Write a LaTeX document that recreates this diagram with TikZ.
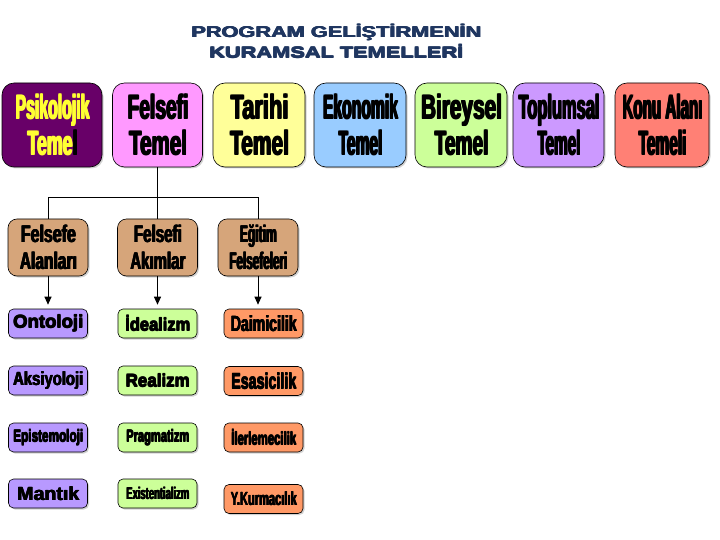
\documentclass[tikz,border=0pt]{standalone}
\usepackage{fontspec}
\usepackage{graphicx}
\usetikzlibrary{arrows.meta,shadows}

\newfontfamily\heavyfam{Liberation Sans}
\newcommand{\heavy}{\heavyfam\bfseries}
% overprint a box a little to the right and up, so the strokes get heavier
\newsavebox{\fatbox}
\newlength{\fatw}\setlength{\fatw}{0.8pt}
\newcommand{\fat}[1]{\sbox{\fatbox}{#1}%
  \rlap{\kern\fatw\usebox{\fatbox}}\rlap{\raisebox{0.4pt}{\usebox{\fatbox}}}%
  \rlap{\kern\fatw\raisebox{0.4pt}{\usebox{\fatbox}}}\usebox{\fatbox}}
% squeeze a text to a given width, keep its height
\newcommand{\sqz}[2]{\fat{\resizebox{#1}{\height}{#2}}}
\newcommand{\lt}[3]{{\fontsize{#1}{#1}\selectfont\sqz{#2pt}{#3}}}

\definecolor{cTitle}{HTML}{1F3660}
\definecolor{cPsi}{HTML}{680068}
\definecolor{cPsiText}{HTML}{FFFF33}
\definecolor{cFel}{HTML}{FF99FF}
\definecolor{cTar}{HTML}{FFFF99}
\definecolor{cEko}{HTML}{99CCFF}
\definecolor{cBir}{HTML}{CCFF99}
\definecolor{cTop}{HTML}{CC99FF}
\definecolor{cKon}{HTML}{FF8075}
\definecolor{cMid}{HTML}{D6A57A}
\definecolor{cLeafP}{HTML}{B899FF}
\definecolor{cLeafG}{HTML}{CCFF99}
\definecolor{cLeafO}{HTML}{FF9966}

\tikzset{
  box/.style={draw=black, line width=0.6pt, inner sep=0pt, align=center,
    drop shadow={shadow xshift=1.5pt, shadow yshift=-1.5pt, opacity=0.35}},
  temel/.style={box, rounded corners=12pt, minimum width=90pt, minimum height=84pt,
    font=\heavy\fontsize{34}{36}\selectfont\setlength{\fatw}{1.2pt}},
  midbox/.style={box, fill=cMid, rounded corners=9pt, minimum width=80pt, minimum height=57pt,
    font=\heavy\fontsize{24}{27}\selectfont\setlength{\fatw}{0.9pt}},
  leaf/.style={box, rounded corners=5pt, minimum width=79pt, minimum height=29pt,
    font=\heavy\setlength{\fatw}{0.7pt}},
  link/.style={draw=black, line width=1pt},
  arrow/.style={link, -{Triangle[width=7pt,length=8pt]}, shorten >=4pt}
}

\begin{document}
\begin{tikzpicture}[x=1pt,y=-1pt]
  \fill[white] (0,0) rectangle (720,540);

  % Title
  \node[font=\heavy\fontsize{15.5}{20.5}\selectfont\setlength{\fatw}{0.8pt}, text=cTitle, align=center, inner sep=0pt]
    (title) at (336,41) {\sqz{290pt}{PROGRAM GELİŞTİRMENİN}\\\sqz{254pt}{KURAMSAL TEMELLERİ}};

  % Top row: foundations
  \node[temel, fill=cPsi, text=cPsiText, minimum width=100pt] (psi) at (52,125)
    {\sqz{74pt}{Psikolojik}\\\sqz{50pt}{Teme\textcolor{black}{l}}};
  \node[temel, fill=cFel] (fel) at (157.5,125) {\sqz{61pt}{Felsefi}\\\sqz{58pt}{Temel}};
  \node[temel, fill=cTar, minimum width=92pt] (tar) at (259,125) {\sqz{58pt}{Tarihi}\\\sqz{59pt}{Temel}};
  \node[temel, fill=cEko, minimum width=92pt] (eko) at (360,125) {\sqz{75pt}{Ekonomik}\\\sqz{44pt}{Temel}};
  \node[temel, fill=cBir, minimum width=92pt] (bir) at (461,125) {\sqz{81pt}{Bireysel}\\\sqz{54pt}{Temel}};
  \node[temel, fill=cTop, minimum width=91pt] (top) at (558.5,125) {\sqz{81pt}{Toplumsal}\\\sqz{43pt}{Temel}};
  \node[temel, fill=cKon, minimum width=94pt] (kon) at (662,125) {\sqz{80pt}{Konu Alanı}\\\sqz{48pt}{Temeli}};

  % Middle row
  \node[midbox] (ala) at (48,247.5) {\sqz{55pt}{Felsefe}\\\sqz{57pt}{Alanları}};
  \node[midbox] (aki) at (157.5,247.5) {\sqz{48pt}{Felsefi}\\\sqz{55pt}{Akımlar}};
  \node[midbox] (egi) at (258,247.5) {\sqz{37pt}{Eğitim}\\\sqz{58pt}{Felsefeleri}};

  % Leaves: philosophy areas
  \node[leaf, fill=cLeafP] (ont) at (48,323.5) {\lt{18}{70}{Ontoloji}};
  \node[leaf, fill=cLeafP] (aks) at (48,380.5) {\lt{19}{70}{Aksiyoloji}};
  \node[leaf, fill=cLeafP] (epi) at (48,437.5) {\lt{17}{70}{Epistemoloji}};
  \node[leaf, fill=cLeafP] (man) at (48,493.5) {\lt{19}{62}{Mantık}};

  % Leaves: currents
  \node[leaf, fill=cLeafG] (ide) at (157.5,323.5) {\lt{18}{65}{İdealizm}};
  \node[leaf, fill=cLeafG] (rea) at (157.5,380.5) {\lt{18}{64}{Realizm}};
  \node[leaf, fill=cLeafG] (pra) at (157.5,437.5) {\lt{17}{63}{Pragmatizm}};
  \node[leaf, fill=cLeafG] (exi) at (157.5,493.5) {\lt{17}{63}{Existentializm}};

  % Leaves: education philosophies
  \node[leaf, fill=cLeafO] (dai) at (263.5,323.5) {\lt{22}{66}{Daimicilik}};
  \node[leaf, fill=cLeafO] (esa) at (263.5,381) {\lt{22}{65}{Esasicilik}};
  \node[leaf, fill=cLeafO] (ile) at (263.5,437.5) {\lt{18}{65}{İlerlemecilik}};
  \node[leaf, fill=cLeafO] (yku) at (263.5,499) {\lt{19}{66}{Y.Kurmacılık}};

  % Connectors
  \draw[link] (fel.south) -- ++(0,30) coordinate (hub);
  \draw[link] (ala.north) |- (hub) -| (egi.north);
  \draw[link] (hub) -- (aki.north);
  \draw[arrow] (ala.south) -- (ont.north);
  \draw[arrow] (aki.south) -- (ide.north);
  \draw[arrow] (egi.south) -- (egi.south |- dai.north);
\end{tikzpicture}
\end{document}
